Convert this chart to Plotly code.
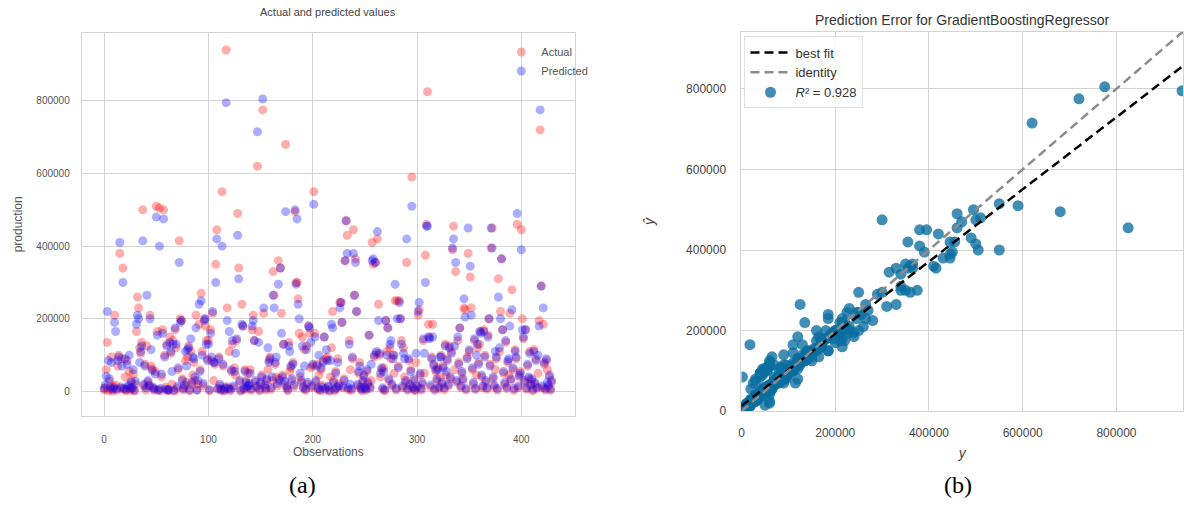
import numpy as np
import plotly.graph_objects as go

# ---- data (values in thousands) ----
actual_k = [
    4, 10, 60, 135, 2, 28, 6, 95, 1, 14,
    210, 18, 3, 70, 100, 380, 8, 90, 340, 5,
    40, 2, 85, 12, 55, 3, 30, 7, 48, 1,
    20, 165, 260, 230, 120, 105, 135, 500, 15, 75,
    4, 125, 25, 18, 210, 70, 62, 8, 3, 55,
    510, 165, 5, 505, 2, 40, 170, 500, 100, 12,
    130, 2, 3, 150, 105, 20, 140, 1, 170, 120,
    8, 60, 415, 200, 195, 35, 4, 12, 85, 25,
    95, 125, 2, 110, 20, 45, 80, 30, 210, 5,
    20, 185, 60, 270, 110, 15, 200, 180, 140, 90,
    140, 2, 170, 85, 215, 30, 75, 350, 445, 6,
    95, 15, 3, 550, 70, 1, 8, 940, 230, 12,
    110, 2, 55, 130, 10, 65, 45, 140, 490, 340,
    25, 1, 240, 180, 5, 60, 30, 8, 50, 18,
    60, 3, 170, 210, 140, 25, 10, 620, 165, 2,
    20, 45, 775, 215, 12, 4, 30, 60, 85, 95,
    6, 30, 330, 265, 75, 40, 15, 360, 35, 340,
    215, 45, 130, 20, 680, 10, 2, 135, 55, 65,
    30, 80, 12, 495, 300, 300, 255, 160, 40, 25,
    150, 8, 115, 3, 125, 20, 180, 160, 65, 10,
    70, 550, 160, 25, 75, 6, 45, 2, 60, 18,
    85, 150, 4, 90, 95, 12, 1, 40, 120, 220,
    30, 2, 55, 8, 90, 20, 245, 245, 190, 10,
    35, 360, 470, 430, 5, 140, 60, 3, 90, 445,
    265, 365, 220, 15, 50, 80, 8, 2, 25, 40,
    12, 3, 55, 20, 155, 8, 30, 410, 350, 95,
    355, 105, 420, 240, 100, 40, 60, 6, 65, 2,
    195, 110, 175, 30, 120, 90, 15, 100, 50, 250,
    4, 250, 70, 250, 200, 140, 10, 120, 40, 25,
    355, 3, 85, 15, 60, 590, 8, 30, 2, 80,
    10, 210, 225, 45, 4, 20, 140, 50, 375, 460,
    825, 185, 150, 12, 95, 185, 70, 3, 55, 30,
    65, 8, 40, 100, 20, 70, 5, 130, 45, 90,
    15, 125, 35, 110, 390, 455, 60, 330, 25, 140,
    80, 175, 10, 50, 30, 230, 225, 4, 95, 380,
    110, 315, 230, 60, 20, 140, 5, 45, 120, 80,
    130, 165, 40, 10, 170, 100, 25, 6, 155, 200,
    75, 395, 450, 35, 12, 60, 90, 4, 310, 110,
    220, 365, 170, 50, 20, 135, 8, 80, 45, 215,
    30, 280, 60, 3, 115, 90, 460, 10, 40, 55,
    445, 200, 145, 25, 170, 6, 70, 35, 110, 15,
    30, 2, 115, 20, 90, 8, 50, 195, 720, 290,
    10, 185, 75, 4, 85, 60, 12, 40, 3, 25,
]
predicted_k = [
    9, 18, 42, 220, 85, 35, 12, 80, 6, 10,
    190, 165, 7, 85, 95, 410, 12, 70, 300, 9,
    90, 6, 75, 18, 100, 9, 25, 11, 60, 4,
    28, 185, 210, 200, 80, 110, 125, 415, 20, 70,
    10, 265, 30, 15, 200, 115, 58, 12, 7, 48,
    480, 155, 3, 400, 8, 48, 160, 475, 95, 6,
    125, 4, 6, 135, 110, 55, 130, 3, 175, 130,
    14, 65, 355, 190, 195, 30, 8, 18, 110, 70,
    115, 120, 5, 145, 25, 95, 90, 40, 175, 3,
    30, 240, 55, 250, 100, 22, 195, 200, 130, 85,
    130, 5, 160, 95, 220, 80, 80, 300, 420, 9,
    90, 20, 6, 400, 75, 4, 12, 795, 195, 8,
    165, 6, 60, 140, 15, 55, 105, 145, 430, 310,
    30, 4, 185, 180, 9, 55, 25, 14, 15, 22,
    50, 7, 180, 195, 140, 30, 14, 715, 135, 6,
    25, 40, 805, 230, 18, 9, 35, 120, 80, 90,
    10, 40, 265, 230, 80, 95, 22, 295, 30, 340,
    160, 40, 130, 28, 495, 15, 6, 125, 110, 70,
    35, 75, 18, 500, 295, 475, 240, 200, 50, 30,
    125, 12, 70, 7, 115, 25, 180, 175, 135, 15,
    75, 515, 150, 30, 70, 10, 100, 5, 65, 12,
    80, 150, 8, 115, 85, 15, 4, 85, 185, 175,
    25, 6, 50, 12, 80, 15, 230, 245, 190, 14,
    30, 360, 470, 380, 10, 130, 20, 7, 95, 380,
    265, 355, 220, 20, 55, 70, 12, 6, 30, 45,
    10, 7, 60, 25, 155, 12, 75, 360, 365, 100,
    355, 110, 440, 195, 105, 50, 65, 10, 55, 5,
    195, 100, 175, 35, 130, 140, 20, 90, 100, 295,
    8, 200, 65, 245, 200, 130, 15, 105, 90, 30,
    420, 7, 90, 20, 55, 510, 12, 35, 5, 105,
    15, 220, 245, 50, 8, 25, 145, 105, 300, 455,
    455, 150, 145, 18, 90, 150, 75, 7, 60, 35,
    60, 12, 95, 95, 25, 65, 10, 125, 55, 85,
    20, 120, 40, 105, 395, 420, 125, 355, 30, 150,
    75, 175, 15, 55, 35, 255, 205, 8, 90, 450,
    115, 345, 210, 65, 25, 145, 9, 100, 130, 75,
    165, 160, 45, 15, 165, 95, 30, 10, 150, 200,
    70, 450, 395, 40, 18, 110, 95, 8, 260, 120,
    200, 365, 170, 55, 25, 140, 12, 85, 90, 180,
    35, 225, 65, 8, 110, 95, 490, 15, 45, 50,
    390, 170, 150, 30, 170, 10, 75, 40, 105, 20,
    35, 6, 110, 25, 85, 12, 100, 180, 775, 290,
    15, 230, 80, 8, 90, 25, 18, 45, 7, 30,
]
r2_text = "0.928"

actual = np.array(actual_k, dtype=float) * 1000
predicted = np.array(predicted_k, dtype=float) * 1000
observations = np.arange(len(actual))

# best fit line from the data
slope, intercept = np.polyfit(actual, predicted, 1)
lim = 942000
line_x = np.array([0, lim])

W, H = 1184, 506
def px(x):
    return x / W
def py(y):
    return 1 - y / H

fig = go.Figure()

# ---- left panel ----
fig.add_trace(go.Scatter(
    x=observations, y=actual, mode="markers", name="Actual",
    marker=dict(color="rgba(255,0,0,0.32)", size=9, line=dict(width=0)),
    xaxis="x", yaxis="y", legend="legend"))
fig.add_trace(go.Scatter(
    x=observations, y=predicted, mode="markers", name="Predicted",
    marker=dict(color="rgba(0,0,255,0.32)", size=9, line=dict(width=0)),
    xaxis="x", yaxis="y", legend="legend"))

# ---- right panel ----
fig.add_trace(go.Scatter(
    x=actual, y=predicted, mode="markers", name="<i>R</i>² = " + r2_text,
    marker=dict(color="rgba(10,110,160,0.78)", size=11, line=dict(width=0)),
    xaxis="x2", yaxis="y2", legend="legend2", legendrank=3))
fig.add_trace(go.Scatter(
    x=line_x, y=intercept + slope * line_x, mode="lines", name="best fit",
    line=dict(color="black", width=2.5, dash="9px,5px"),
    xaxis="x2", yaxis="y2", legend="legend2", legendrank=1))
fig.add_trace(go.Scatter(
    x=line_x, y=line_x, mode="lines", name="identity",
    line=dict(color="#8c8c8c", width=2.5, dash="9px,5px"),
    xaxis="x2", yaxis="y2", legend="legend2", legendrank=2))

grid = "#d4d4d4"
tickfont_l = dict(family="Liberation Sans, Arial", size=10, color="#555")
tickfont_r = dict(family="Liberation Sans, Arial", size=12, color="#444")

fig.update_layout(
    width=W, height=H,
    margin=dict(l=0, r=0, t=0, b=0),
    paper_bgcolor="white", plot_bgcolor="white",
    font=dict(family="Liberation Sans, Arial", color="#444"),
    xaxis=dict(domain=[px(79), px(574)], range=[-21.5, 451.5],
               tickvals=[0, 100, 200, 300, 400], showgrid=True, gridcolor=grid,
               zeroline=False, showline=True, linecolor=grid, mirror=True,
               tickfont=tickfont_l, ticklabelstandoff=14,
               title=dict(text="Observations", font=dict(size=12, color="#555"), standoff=2),
               anchor="y"),
    yaxis=dict(domain=[py(422), py(33)], range=[-68000, 988000],
               tickvals=[0, 200000, 400000, 600000, 800000],
               ticktext=["0", "200000", "400000", "600000", "800000"],
               showgrid=True, gridcolor=grid, zeroline=False,
               showline=True, linecolor=grid, mirror=True,
               tickfont=tickfont_l, ticklabelstandoff=9,
               title=dict(text="production", font=dict(size=12, color="#555"), standoff=11),
               anchor="x"),
    xaxis2=dict(domain=[px(741), 1.0], range=[0, lim],
                tickvals=[0, 200000, 400000, 600000, 800000],
                ticktext=["0", "200000", "400000", "600000", "800000"],
                showgrid=True, gridcolor=grid, zeroline=False,
                showline=True, linecolor=grid, mirror=True,
                tickfont=tickfont_r, ticklabelstandoff=10,
                title=dict(text="<i>y</i>", font=dict(size=14, color="#444"), standoff=9),
                anchor="y2"),
    yaxis2=dict(domain=[py(417), py(32)], range=[0, lim],
                tickvals=[0, 200000, 400000, 600000, 800000],
                ticktext=["0", "200000", "400000", "600000", "800000"],
                showgrid=True, gridcolor=grid, zeroline=False,
                showline=True, linecolor=grid, mirror=True,
                tickfont=tickfont_r, ticklabelstandoff=12,
                title=dict(text="<i>ŷ</i>", font=dict(size=14, color="#444"), standoff=28),
                anchor="x2"),
    legend=dict(x=px(500), y=py(38), xanchor="left", yanchor="top",
                bgcolor="rgba(0,0,0,0)", borderwidth=0,
                font=dict(size=11, color="#555"), itemwidth=30,
                tracegroupgap=2),
    legend2=dict(x=px(744), y=py(37), xanchor="left", yanchor="top",
                 bgcolor="rgba(255,255,255,0.85)", bordercolor="#e0e0e0", borderwidth=1,
                 font=dict(size=13, color="#333"), itemwidth=40),
    annotations=[
        dict(text="Actual and predicted values", x=px(326), y=py(12), xref="paper", yref="paper",
             showarrow=False, font=dict(size=11, color="#444"), xanchor="center", yanchor="middle"),
        dict(text="Prediction Error for GradientBoostingRegressor", x=px(962), y=py(20),
             xref="paper", yref="paper", showarrow=False,
             font=dict(size=14, color="#333"), xanchor="center", yanchor="middle"),
        dict(text="(a)", x=px(301), y=py(492), xref="paper", yref="paper", showarrow=False,
             font=dict(family="Liberation Serif, Times New Roman", size=24, color="black"),
             xanchor="center", yanchor="middle"),
        dict(text="(b)", x=px(958), y=py(492), xref="paper", yref="paper", showarrow=False,
             font=dict(family="Liberation Serif, Times New Roman", size=24, color="black"),
             xanchor="center", yanchor="middle"),
    ],
)

fig.write_html("out.html")
